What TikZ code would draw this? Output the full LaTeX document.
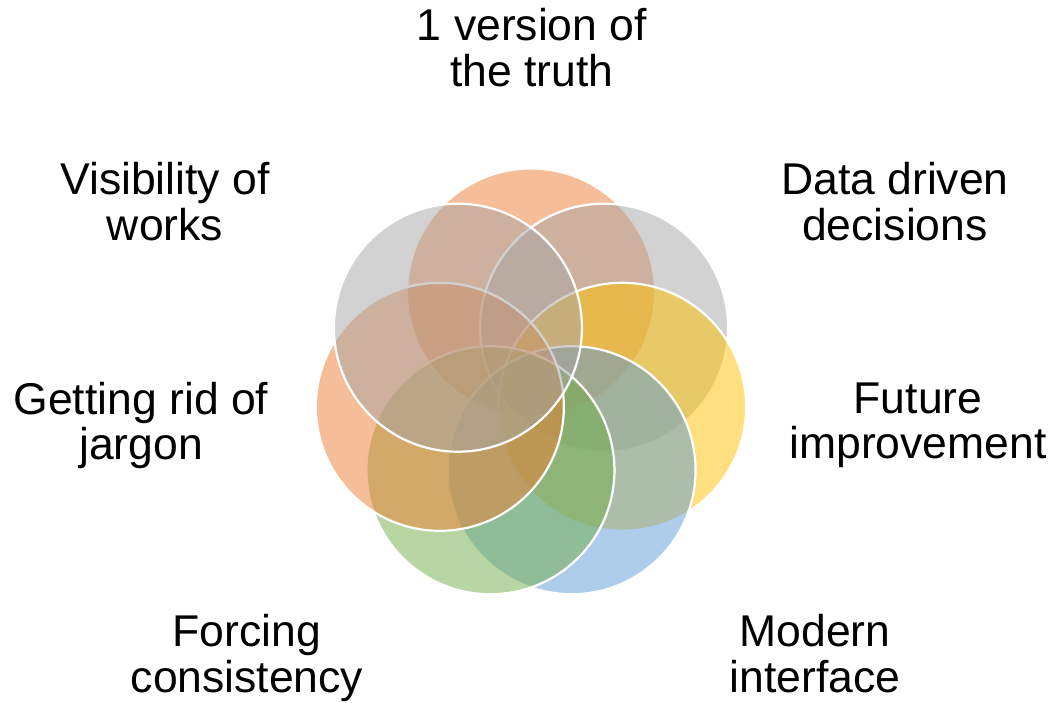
\documentclass[tikz,border=0pt]{standalone}
\usepackage{fontspec}
\setmainfont{Liberation Sans}
\usetikzlibrary{calc}
\definecolor{accOrange}{HTML}{ED7D31}
\definecolor{accGray}{HTML}{A5A5A5}
\definecolor{accYellow}{HTML}{FFC000}
\definecolor{accBlue}{HTML}{5B9BD5}
\definecolor{accGreen}{HTML}{70AD47}
\tikzset{
  venn/.style={circle, minimum size=248pt, inner sep=0pt, outer sep=0pt,
    fill=#1, fill opacity=0.5, draw=white, draw opacity=1, line width=2.2pt},
  lbl/.style={align=center, inner sep=0pt, text=black,
    font=\fontsize{44.5}{45.5}\selectfont}
}
\begin{document}
\begin{tikzpicture}[x=1pt,y=1pt]
\useasboundingbox (0,0) rectangle (1056,703);
\coordinate (ctr) at (531,317);
\def\rr{93.5}
\node[venn=accOrange] (c1) at ($(ctr)+(90:\rr)$) {};
\node[venn=accGray]   (c2) at ($(ctr)+(38.571:\rr)$) {};
\node[venn=accYellow] (c3) at ($(ctr)+(-12.857:\rr)$) {};
\node[venn=accBlue]   (c4) at ($(ctr)+(-64.286:\rr)$) {};
\node[venn=accGreen]  (c5) at ($(ctr)+(-115.714:\rr)$) {};
\node[venn=accOrange] (c6) at ($(ctr)+(-167.143:\rr)$) {};
\node[venn=accGray]   (c7) at ($(ctr)+(141.429:\rr)$) {};
\node[lbl] (t1) at (532,655.5) {1 version of\\the truth};
\node[lbl] (t2) at (895,501.5) {Data driven\\decisions};
\node[lbl] (t3) at (918,277.6) {Future\\improvement};
\node[lbl] (t4) at (815,49.5) {Modern\\interface};
\node[lbl] (t5) at (247,44.8) {Forcing\\consistency};
\node[lbl] (t6) at (141,277.6) {Getting rid of\\jargon};
\node[lbl] (t7) at (165,501.5) {Visibility of\\works};
\end{tikzpicture}
\end{document}
